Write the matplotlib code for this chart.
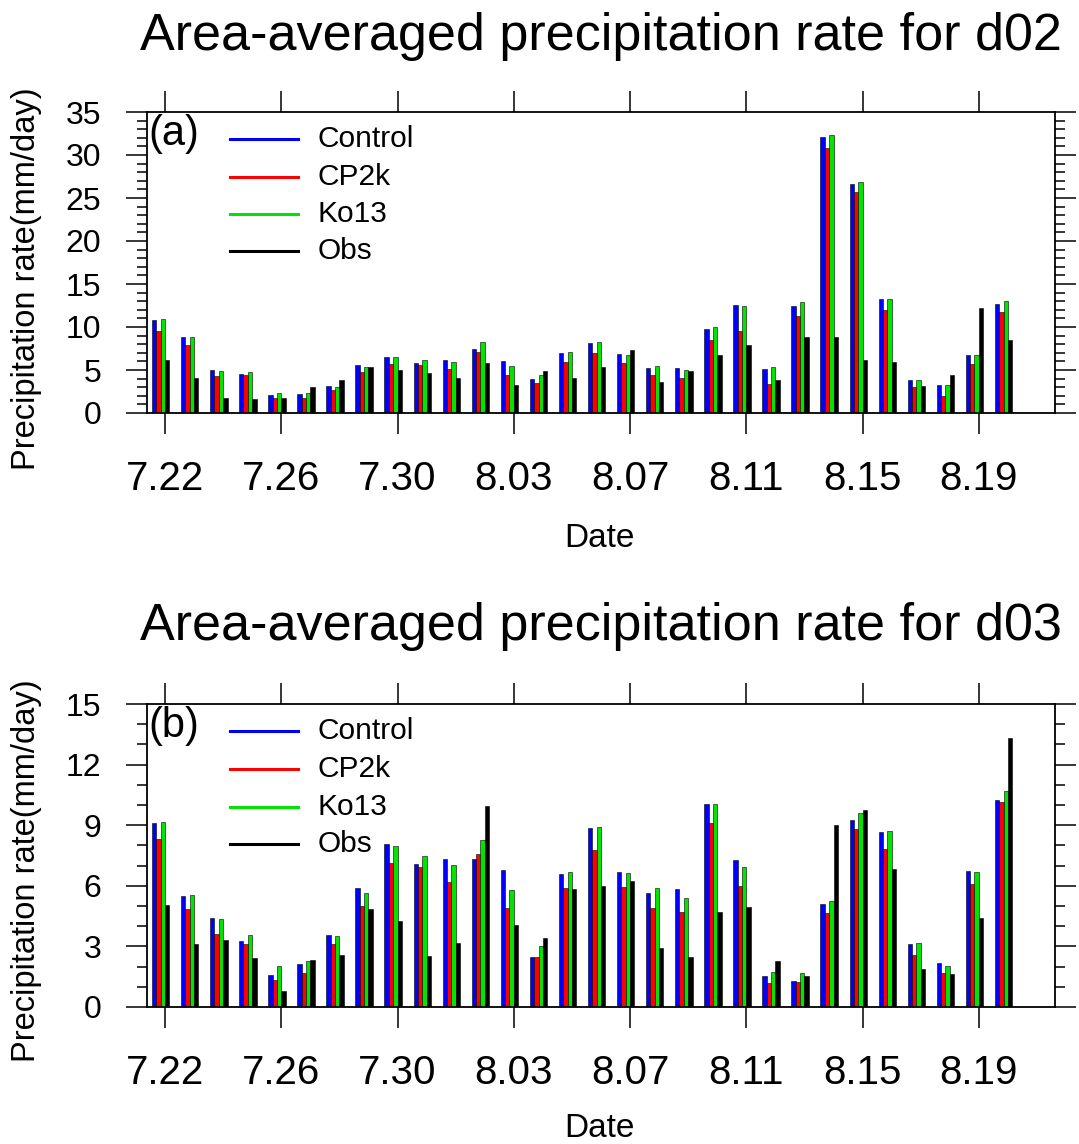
import numpy as np
import matplotlib
matplotlib.use('Agg')
import matplotlib.pyplot as plt
from matplotlib.ticker import MultipleLocator

plt.rcParams['font.family'] = ['Liberation Sans', 'DejaVu Sans']

# dates of each bar group
dates = ['7.22', '7.23', '7.24', '7.25', '7.26', '7.27', '7.28', '7.29', '7.30', '7.31',
         '8.01', '8.02', '8.03', '8.04', '8.05', '8.06', '8.07', '8.08', '8.09', '8.10',
         '8.11', '8.12', '8.13', '8.14', '8.15', '8.16', '8.17', '8.18', '8.19', '8.20']

series_names = ['Control', 'CP2k', 'Ko13', 'Obs']
series_colors = ['#0000ff', '#ff0000', '#00e400', '#000000']

# d02 area-averaged precipitation (mm/day)
d02_control = [10.83, 8.78, 4.99, 4.56, 2.09, 2.17, 3.09, 5.57, 6.54, 5.84,
               6.15, 7.50, 6.07, 3.91, 6.96, 8.12, 6.81, 5.26, 5.26, 9.78,
               12.57, 5.14, 12.45, 32.10, 26.64, 13.22, 3.87, 3.21, 6.77, 12.65]
d02_cp2k = [9.59, 7.93, 4.29, 4.37, 1.74, 1.74, 2.71, 4.76, 5.72, 5.57,
            5.14, 7.15, 4.45, 3.52, 5.96, 6.96, 5.80, 4.45, 4.02, 8.51,
            9.55, 3.36, 11.33, 30.82, 25.72, 12.03, 3.02, 2.01, 5.68, 11.72]
d02_ko13 = [10.94, 8.82, 4.91, 4.80, 2.36, 2.28, 3.05, 5.34, 6.50, 6.19,
            5.92, 8.24, 5.45, 4.41, 7.04, 8.24, 6.73, 5.45, 4.99, 9.98,
            12.45, 5.37, 12.88, 32.33, 26.91, 13.26, 3.87, 3.21, 6.77, 12.99]
d02_obs = [6.19, 4.02, 1.74, 1.66, 1.74, 2.98, 3.87, 5.30, 4.99, 4.68,
           4.06, 5.76, 3.25, 4.91, 4.10, 5.30, 7.35, 3.60, 4.91, 6.77,
           7.89, 3.79, 8.78, 8.86, 6.15, 5.92, 3.13, 4.41, 12.18, 8.47]

# d03 area-averaged precipitation (mm/day)
d03_control = [9.09, 5.50, 4.39, 3.27, 1.59, 2.13, 3.55, 5.90, 8.08, 7.10,
               7.32, 7.34, 6.76, 2.46, 6.58, 8.87, 6.69, 5.65, 5.85, 10.04,
               7.29, 1.52, 1.27, 5.10, 9.28, 8.67, 3.14, 2.16, 6.74, 10.23]
d03_cp2k = [8.31, 4.86, 3.63, 3.14, 1.32, 1.70, 3.14, 5.01, 7.12, 6.94,
            6.21, 7.57, 4.91, 2.46, 5.90, 7.78, 5.96, 4.91, 4.69, 9.09,
            6.01, 1.19, 1.24, 4.66, 8.79, 7.80, 2.58, 1.69, 6.10, 10.14]
d03_ko13 = [9.17, 5.55, 4.34, 3.55, 2.03, 2.26, 3.50, 5.65, 7.96, 7.47,
            7.02, 8.26, 5.80, 3.02, 6.69, 8.89, 6.61, 5.88, 5.40, 10.04,
            6.94, 1.75, 1.70, 5.27, 9.62, 8.72, 3.16, 2.05, 6.69, 10.71]
d03_obs = [5.07, 3.14, 3.32, 2.45, 0.79, 2.35, 2.59, 4.87, 4.26, 2.53,
           3.16, 9.93, 4.05, 3.40, 5.82, 6.00, 6.24, 2.94, 2.49, 4.69,
           4.94, 2.26, 1.52, 9.00, 9.73, 6.82, 1.88, 1.65, 4.39, 13.33]

BAR_W = 0.15


def draw_panel(ax, series, ymax, ystep, tag):
    x = np.arange(len(dates))
    for k, (vals, color) in enumerate(zip(series, series_colors)):
        ax.bar(x + (k - 2.5) * BAR_W, vals, width=BAR_W, color=color,
               edgecolor='black', linewidth=0.4, align='center')

    ax.set_xlim(-0.62, 30.62)
    ax.set_ylim(0, ymax)
    ax.set_xticks(x[::4])
    ax.set_xticklabels(dates[::4])
    ax.yaxis.set_major_locator(MultipleLocator(ystep))
    ax.yaxis.set_minor_locator(MultipleLocator(1))

    ax.tick_params(axis='both', which='both', direction='out', top=True, right=True)
    ax.tick_params(axis='x', which='major', length=15, width=1.1, labelsize=29, pad=19)
    ax.tick_params(axis='y', which='major', length=15, width=1.1, labelsize=23, pad=18)
    ax.tick_params(axis='y', which='minor', length=7.5, width=1.1)
    for sp in ax.spines.values():
        sp.set_linewidth(1.3)

    # legend drawn by hand, NCL style
    rows = [0.910, 0.785, 0.661, 0.538]
    for name, color, yy in zip(series_names, series_colors, rows):
        ax.plot([0.0914, 0.1663], [yy, yy], color=color, lw=2.2,
                transform=ax.transAxes, clip_on=False)
        ax.text(0.1883, yy, name, transform=ax.transAxes, fontsize=21.5,
                ha='left', va='center')

    ax.text(0.001, 0.995, tag, transform=ax.transAxes, fontsize=30,
            ha='left', va='top')


fig = plt.figure(figsize=(10.79, 11.44), dpi=100)
W, H = 1079.0, 1144.0

ax1 = fig.add_axes([147 / W, 1 - 413 / H, 908 / W, 301 / H])
draw_panel(ax1, [d02_control, d02_cp2k, d02_ko13, d02_obs], 35, 5, '(a)')

ax2 = fig.add_axes([147 / W, 1 - 1007 / H, 908 / W, 303 / H])
draw_panel(ax2, [d03_control, d03_cp2k, d03_ko13, d03_obs], 15, 3, '(b)')

fig.text(601 / W, 1 - 50 / H, 'Area-averaged precipitation rate for d02',
         fontsize=37.5, ha='center', va='baseline')
fig.text(601 / W, 1 - 640 / H, 'Area-averaged precipitation rate for d03',
         fontsize=37.5, ha='center', va='baseline')

fig.text(599 / W, 1 - 547 / H, 'Date', fontsize=24, ha='center', va='baseline')
fig.text(599 / W, 1 - 1137 / H, 'Date', fontsize=24, ha='center', va='baseline')

fig.text(27 / W, 1 - 279 / H, 'Precipitation rate(mm/day)', fontsize=23.5,
         rotation=90, ha='center', va='center')
fig.text(27 / W, 1 - 871 / H, 'Precipitation rate(mm/day)', fontsize=23.5,
         rotation=90, ha='center', va='center')

fig.savefig('out.png', dpi=100)
